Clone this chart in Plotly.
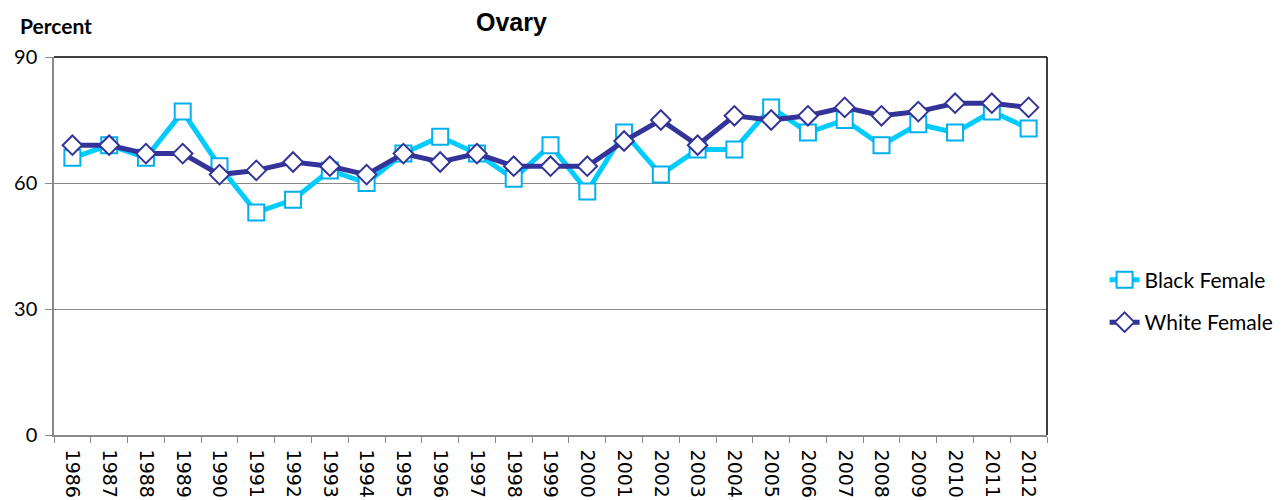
import plotly.graph_objects as go

years = [str(y) for y in range(1986, 2013)]
black_female = [66, 69, 66, 77, 64, 53, 56, 63, 60, 67, 71, 67, 61, 69, 58, 72, 62, 68, 68, 78, 72, 75, 69, 74, 72, 77, 73]
white_female = [69, 69, 67, 67, 62, 63, 65, 64, 62, 67, 65, 67, 64, 64, 64, 70, 75, 69, 76, 75, 76, 78, 76, 77, 79, 79, 78]

fig = go.Figure()
fig.add_trace(go.Scatter(
    x=years, y=black_female, name="Black Female", mode="lines+markers",
    line=dict(color="#00CCFF", width=5),
    marker=dict(symbol="square", size=16, color="white", line=dict(color="#00B0F0", width=2)),
    legendgroup="a",
))
fig.add_trace(go.Scatter(
    x=years, y=white_female, name="White Female", mode="lines+markers",
    line=dict(color="#333399", width=5),
    marker=dict(symbol="diamond", size=15, color="white", line=dict(color="#333399", width=2)),
    legendgroup="b",
))

fig.update_layout(
    width=1288, height=500,
    margin=dict(l=54, r=241, t=57, b=65, autoexpand=False),
    paper_bgcolor="white", plot_bgcolor="white",
    showlegend=True,
    legend=dict(x=1.058, y=0.354, xanchor="left", yanchor="middle",
                font=dict(family="Lato, Open Sans, sans-serif", size=21, color="black"),
                traceorder="grouped", tracegroupgap=12, bgcolor="rgba(0,0,0,0)"),
    xaxis=dict(type="category", range=[-0.5, 26.5], showgrid=False, automargin=False,
               showline=True, linecolor="#898989", linewidth=1.5,
               ticks="outside", tickson="boundaries", ticklen=6, tickcolor="#898989",
               ticklabelstandoff=9,
               tickangle=90, tickfont=dict(family="DejaVu Sans", size=19, color="black")),
    yaxis=dict(range=[0, 90], tickvals=[0, 30, 60, 90], showgrid=True, automargin=False,
               gridcolor="#898989", gridwidth=1, zeroline=False,
               showline=True, linecolor="#898989", linewidth=1.5,
               ticks="outside", ticklen=7, tickcolor="#898989", ticklabelstandoff=4,
               tickfont=dict(family="Lato, Open Sans, sans-serif", size=20, color="black")),
    shapes=[
        dict(type="line", xref="paper", yref="paper", x0=0, x1=1, y0=1, y1=1,
             line=dict(color="black", width=1.5)),
        dict(type="line", xref="paper", yref="paper", x0=1, x1=1, y0=0, y1=1,
             line=dict(color="black", width=1.5)),
    ],
    annotations=[
        dict(text="<b>Ovary</b>", xref="paper", yref="paper", x=(511 - 54) / 993, y=1.0 + 35 / 378,
             xanchor="center", yanchor="middle", showarrow=False,
             font=dict(family="Liberation Sans, Arial", size=25, color="black")),
        dict(text="<b>Percent</b>", xref="paper", yref="paper", x=-36 / 993, y=1.0 + 31 / 378,
             xanchor="left", yanchor="middle", showarrow=False,
             font=dict(family="Lato, Open Sans, sans-serif", size=21, color="black")),
    ],
)

fig.write_html("out.html", config={"displayModeBar": False},
               post_script="document.body.style.margin='0px';document.body.style.padding='0px';")
